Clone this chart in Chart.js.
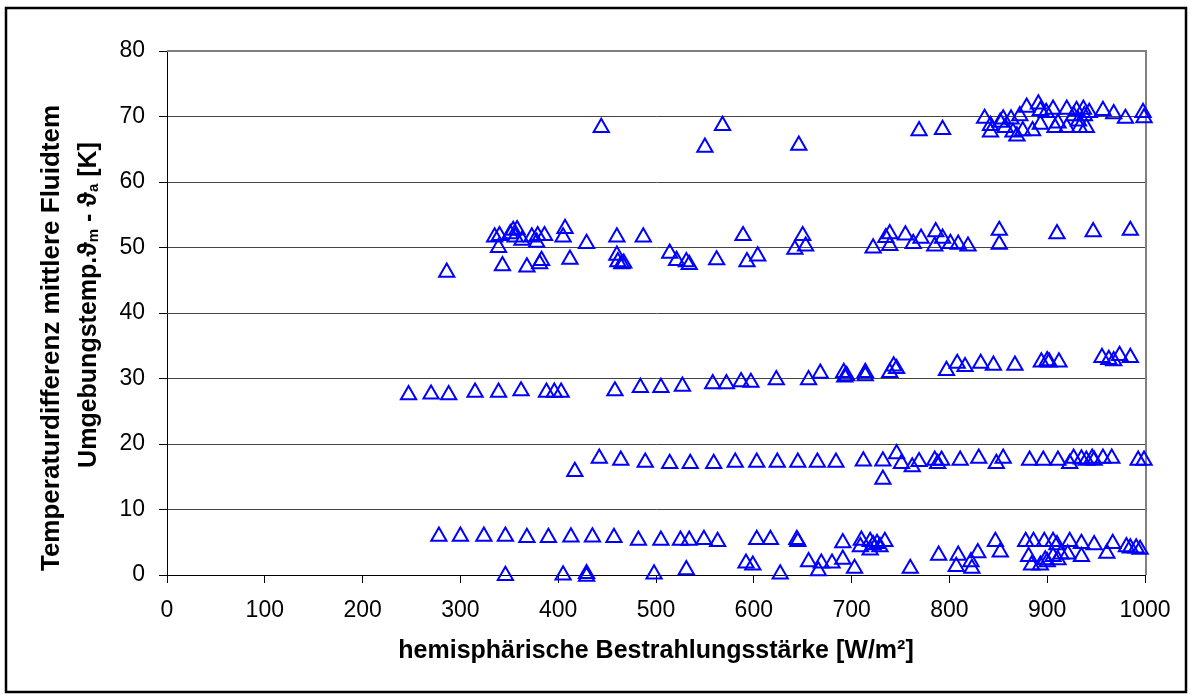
<!DOCTYPE html>
<html lang="de">
<head>
    <meta charset="UTF-8">
    <title>Temperaturdifferenz über Bestrahlungsstärke</title>
    <script src="https://cdn.jsdelivr.net/npm/chart.js"></script>
    <style>
        body {
            margin: 0;
            background-color: #ffffff;
        }

        #chart-container {
            position: relative;
            width: 1192px;
            height: 697px;
        }
    </style>
</head>
<body>

    <div id="chart-container">
        <canvas id="myChart" width="1192" height="697"></canvas>
    </div>

    <script>
        // Messpunkte, nach Temperaturniveau gruppiert (x: W/m², y: K)
        var irr70 = [444, 550, 568, 646, 769, 793, 836, 842, 842, 852, 855, 857, 863, 865, 869, 872, 875, 879, 885, 891, 893, 893, 899, 906, 908, 911, 920, 920, 927, 930, 932, 933, 937, 938, 940, 943, 957, 968, 980, 998, 999];
        var dT70 = [68.3, 65.3, 68.6, 65.6, 67.8, 68.0, 69.7, 68.6, 67.6, 69.1, 69.6, 68.3, 69.6, 67.6, 67.0, 70.1, 67.8, 71.4, 67.8, 71.9, 70.9, 68.8, 70.6, 71.1, 68.3, 69.0, 71.1, 68.3, 70.1, 70.9, 69.3, 68.3, 71.1, 70.1, 68.3, 70.6, 70.9, 70.4, 69.7, 70.6, 69.8];

        var irr50 = [286, 335, 340, 339, 343, 351, 354, 358, 356, 363, 368, 373, 379, 378, 381, 383, 386, 405, 407, 412, 429, 460, 460, 461, 465, 467, 487, 514, 521, 531, 534, 562, 589, 593, 604, 642, 650, 653, 722, 735, 739, 739, 755, 763, 771, 786, 785, 793, 801, 809, 819, 851, 851, 910, 947, 985];
        var dT50 = [46.2, 51.6, 51.8, 50.0, 47.2, 52.1, 52.6, 52.7, 51.6, 51.1, 47.0, 51.6, 51.8, 50.8, 47.5, 48.0, 51.8, 51.6, 52.9, 48.2, 50.6, 51.6, 48.8, 47.8, 47.5, 47.6, 51.6, 49.1, 48.0, 47.8, 47.4, 48.1, 51.8, 47.8, 48.7, 49.7, 51.8, 50.2, 49.9, 51.5, 52.1, 50.3, 51.9, 50.6, 51.4, 52.4, 50.2, 51.4, 50.6, 50.5, 50.2, 52.6, 50.5, 52.1, 52.4, 52.6];

        var irr30 = [247, 270, 288, 315, 339, 362, 388, 396, 403, 458, 484, 505, 527, 558, 572, 587, 597, 623, 656, 668, 692, 693, 695, 714, 714, 739, 743, 746, 797, 808, 816, 832, 845, 867, 894, 900, 902, 912, 956, 963, 968, 974, 985];
        var dT30 = [27.5, 27.6, 27.5, 27.9, 27.9, 28.1, 27.9, 27.9, 27.9, 28.1, 28.6, 28.6, 28.8, 29.2, 29.2, 29.5, 29.4, 29.8, 29.8, 30.8, 30.9, 30.2, 30.4, 30.9, 30.4, 30.9, 31.9, 31.5, 31.2, 32.3, 31.8, 32.3, 32.0, 32.0, 32.5, 32.7, 32.5, 32.5, 33.2, 32.9, 32.7, 33.5, 33.2];

        var irr17 = [417, 442, 464, 489, 514, 535, 559, 581, 603, 624, 645, 665, 684, 712, 732, 732, 746, 751, 762, 769, 785, 788, 792, 811, 830, 848, 855, 882, 896, 911, 923, 927, 935, 940, 946, 948, 957, 966, 993, 999];
        var dT17 = [15.8, 17.8, 17.5, 17.2, 17.0, 17.0, 17.0, 17.2, 17.2, 17.2, 17.2, 17.2, 17.2, 17.4, 17.4, 14.6, 18.5, 17.0, 16.5, 17.3, 17.5, 17.0, 17.5, 17.5, 17.8, 17.0, 17.8, 17.5, 17.5, 17.5, 17.0, 17.8, 17.7, 17.5, 17.8, 17.5, 17.8, 17.8, 17.5, 17.5];

        var irr5 = [278, 300, 324, 346, 368, 390, 413, 435, 457, 482, 505, 525, 534, 549, 563, 603, 617, 644, 645, 691, 710, 709, 719, 722, 726, 729, 734, 719, 789, 809, 829, 847, 852, 878, 886, 881, 897, 906, 910, 906, 914, 923, 921, 935, 935, 948, 961, 967, 981, 985, 991, 995];
        var dT5 = [5.9, 5.9, 5.9, 5.9, 5.7, 5.7, 5.8, 5.8, 5.7, 5.3, 5.3, 5.3, 5.3, 5.4, 5.1, 5.4, 5.4, 5.4, 5.1, 4.9, 5.3, 4.3, 5.1, 4.6, 4.8, 4.3, 5.1, 3.8, 3.0, 3.0, 3.4, 5.1, 3.5, 5.1, 5.1, 2.8, 5.1, 5.1, 4.6, 2.8, 3.2, 5.1, 3.2, 4.8, 2.8, 4.6, 3.3, 4.8, 4.3, 4.1, 4.1, 3.9];

        var irr0 = [346, 405, 429, 429, 498, 531, 592, 599, 627, 656, 666, 669, 680, 691, 703, 760, 807, 822, 823, 884, 893, 898, 900, 911];
        var dT0 = [-0.1, 0.0, 0.2, -0.2, 0.15, 0.8, 1.8, 1.5, 0.15, 2.0, 0.65, 1.8, 1.8, 2.4, 1.0, 1.0, 1.3, 2.0, 1.0, 1.5, 1.5, 2.3, 2.0, 2.3];

        var xMin = 0, xMax = 1000, xStep = 100;
        var yMin = 0, yMax = 80, yStep = 10;

        var xTitle = 'hemisphärische Bestrahlungsstärke [W/m²]';
        var yTitleLine1 = 'Temperaturdifferenz mittlere Fluidtem';
        // zweite Zeile mit tiefgestellten Indizes
        var yTitleLine2 = [['Umgebungstemp.ϑ', false], ['m', true], [' - ϑ', false], ['a', true], [' [K]', false]];

        var fontFamily = '"Liberation Sans", Arial, sans-serif';

        function toPoints(xs, ys) {
            return xs.map(function (x, i) { return { x: x, y: ys[i] }; });
        }

        var points = [].concat(
            toPoints(irr70, dT70),
            toPoints(irr50, dT50),
            toPoints(irr30, dT30),
            toPoints(irr17, dT17),
            toPoints(irr5, dT5),
            toPoints(irr0, dT0)
        );

        var frame = {
            id: 'frame',
            beforeDatasetsDraw: function (chart) {
                var ctx = chart.ctx, a = chart.chartArea;
                ctx.save();
                ctx.strokeStyle = '#808080';
                ctx.lineWidth = 2;
                ctx.beginPath();
                ctx.moveTo(a.left, a.top);
                ctx.lineTo(a.right + 1, a.top);
                ctx.lineTo(a.right + 1, a.bottom);
                ctx.stroke();
                ctx.restore();
            },
            afterDraw: function (chart) {
                var ctx = chart.ctx;
                ctx.save();
                // Rahmen um das ganze Diagramm
                ctx.strokeStyle = '#000000';
                ctx.lineWidth = 2.5;
                ctx.strokeRect(6, 8, 1180, 684);

                // y-Achsentitel, zweizeilig und gedreht
                ctx.fillStyle = '#000000';
                ctx.textBaseline = 'middle';
                ctx.font = 'bold 26px ' + fontFamily;
                ctx.translate(52, 338);
                ctx.rotate(-Math.PI / 2);
                ctx.textAlign = 'center';
                ctx.fillText(yTitleLine1, 0, 0);
                ctx.restore();

                ctx.save();
                ctx.fillStyle = '#000000';
                ctx.textBaseline = 'middle';
                ctx.textAlign = 'left';
                ctx.translate(89, 305);
                ctx.rotate(-Math.PI / 2);
                var big = 'bold 25px ' + fontFamily, small = 'bold 15px ' + fontFamily;
                var total = 0;
                yTitleLine2.forEach(function (p) {
                    ctx.font = p[1] ? small : big;
                    total += ctx.measureText(p[0]).width;
                });
                var pos = -total / 2;
                yTitleLine2.forEach(function (p) {
                    ctx.font = p[1] ? small : big;
                    ctx.fillText(p[0], pos, p[1] ? 5 : 0);
                    pos += ctx.measureText(p[0]).width;
                });
                ctx.restore();
            }
        };

        var ctx = document.getElementById('myChart').getContext('2d');
        var myChart = new Chart(ctx, {
            type: 'scatter',
            data: {
                datasets: [{
                    data: points,
                    pointStyle: 'triangle',
                    pointRadius: 8.8,
                    pointBorderWidth: 2,
                    borderColor: '#0000ff',
                    backgroundColor: 'rgba(0,0,0,0)',
                    clip: false
                }]
            },
            options: {
                responsive: false,
                animation: false,
                layout: { padding: { top: 51, right: 47, left: 0, bottom: 0 } },
                plugins: {
                    legend: { display: false },
                    tooltip: { enabled: false }
                },
                scales: {
                    x: {
                        type: 'linear',
                        min: xMin,
                        max: xMax,
                        afterFit: function (scale) { scale.height = 122; },
                        ticks: {
                            stepSize: xStep,
                            color: '#000000',
                            padding: 14,
                            maxRotation: 0,
                            font: { family: fontFamily, size: 23 },
                            callback: function (value) { return String(value); }
                        },
                        grid: {
                            drawOnChartArea: false,
                            drawTicks: true,
                            tickLength: 8,
                            tickColor: '#000000'
                        },
                        border: { color: '#000000', width: 1 },
                        title: {
                            display: true,
                            text: xTitle,
                            color: '#000000',
                            padding: { top: 0, bottom: 31 },
                            font: { family: fontFamily, size: 25, weight: 'bold' }
                        }
                    },
                    y: {
                        min: yMin,
                        max: yMax,
                        afterFit: function (scale) { scale.width = 167; },
                        ticks: {
                            stepSize: yStep,
                            color: '#000000',
                            padding: 14,
                            font: { family: fontFamily, size: 23 },
                            callback: function (value) { return String(value); }
                        },
                        grid: {
                            color: '#444444',
                            lineWidth: 1,
                            tickLength: 8,
                            tickColor: '#000000'
                        },
                        border: { color: '#000000', width: 1 }
                    }
                }
            },
            plugins: [frame]
        });
    </script>

</body>
</html>
